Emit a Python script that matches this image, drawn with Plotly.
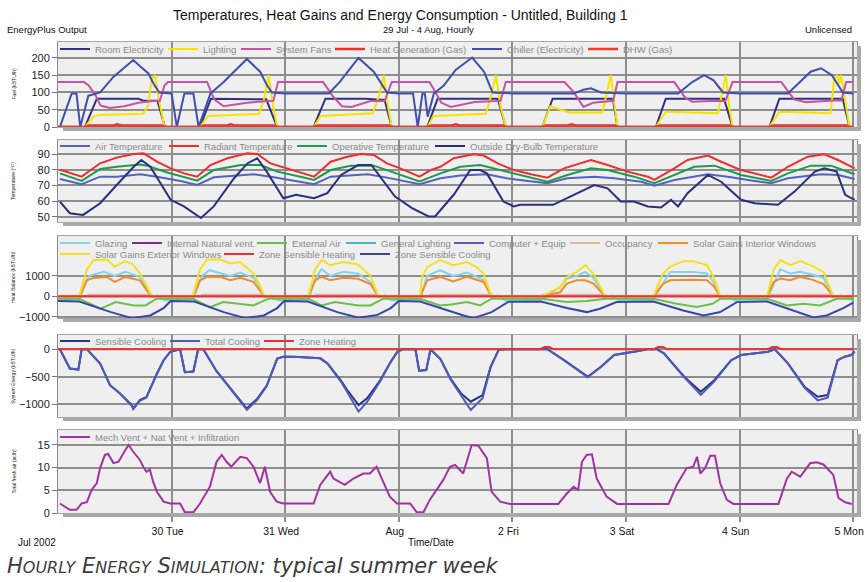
import plotly.graph_objects as go

# ---------------- DATA (hours from 29 Jul 00:00) ----------------
day_ticks = [24, 48, 72, 96, 120, 144, 168]
day_labels = ["30 Tue", "31 Wed", "Aug", "2 Fri", "3 Sat", "4 Sun", "5 Mon"]

# Panel 1 - Fuel
room_h = [0, 5.7, 8.2, 17.0, 18.0, 21.0, 22.6, 30.0, 32.3, 44.0, 46.3, 54.0, 56.5, 65.0, 69.0, 70.5,
          78.0, 80.2, 92.9, 94.6, 102.3, 104.5, 117.2, 118.2, 126.3, 128.4, 140.7, 142.5,
          150.3, 152.4, 165.8, 167.2, 168.0]
room_v = [0, 0, 82, 82, 76, 76, 0, 0, 82, 80, 0, 0, 82, 82, 78, 0,
          0, 82, 82, 0, 0, 82, 82, 0, 0, 82, 82, 0,
          0, 82, 82, 0, 0]
lt_h = [0, 5.7, 7.5, 8.5, 18.0, 19.0, 19.8, 20.5, 21.3, 22.5,
        30.0, 31.7, 42.5, 43.5, 44.5, 45.3, 46.3,
        54.0, 55.5, 66.5, 67.8, 68.8, 69.6, 70.5,
        78.1, 79.3, 90.4, 91.5, 92.5, 93.5, 94.6,
        102.3, 104.0, 108.0, 115.0, 116.0, 116.8, 117.5, 118.2,
        126.3, 128.4, 139.4, 140.3, 141.1, 141.8, 142.5,
        150.3, 152.4, 163.2, 164.0, 164.6, 165.0, 165.4, 166.0, 167.2, 168.0]
lt_v = [0, 0, 30, 35, 38, 60, 140, 150, 80, 0,
        0, 32, 38, 80, 150, 70, 0,
        0, 32, 40, 90, 150, 70, 0,
        0, 32, 38, 90, 150, 60, 0,
        0, 60, 42, 42, 100, 150, 70, 0,
        0, 44, 40, 100, 150, 60, 0,
        0, 44, 40, 140, 150, 125, 150, 100, 0, 0]
fan_h = [0, 5.5, 6.5, 8.0, 9.0, 11.0, 14.0, 17.0, 20.0, 21.5, 22.5, 23.2,
         31.5, 33.0, 35.0, 40.0, 44.0, 45.5, 46.5,
         56.0, 58.0, 60.0, 62.0, 66.0, 69.0, 70.5,
         78.5, 81.0, 83.0, 88.0, 92.5, 93.5, 94.6,
         107.0, 109.0, 111.0, 113.0, 116.5, 117.3, 118.2,
         130.2, 132.5, 134.0, 138.0, 141.0, 142.5,
         152.8, 155.5, 158.0, 164.0, 165.5, 166.5, 168.0]
fan_v = [130, 130, 120, 90, 62, 55, 60, 70, 75, 75, 120, 130,
         130, 80, 60, 70, 75, 76, 130,
         130, 90, 60, 58, 75, 75, 130,
         130, 70, 58, 72, 75, 76, 130,
         130, 100, 58, 70, 75, 76, 130,
         130, 85, 73, 75, 75, 130,
         130, 80, 72, 77, 77, 130, 130]
gas_h = [0, 5.7, 6.5, 11.5, 12.5, 13.5, 22.0, 22.6,
         30.0, 30.8, 35.5, 36.5, 37.5, 45.8, 46.3,
         54.0, 54.8, 70.0, 70.5,
         78.1, 78.9, 83.0, 84.0, 85.0, 94.1, 94.6,
         102.3, 103.1, 107.5, 108.5, 109.5, 117.7, 118.2,
         126.3, 127.1, 142.0, 142.5,
         150.3, 151.1, 166.7, 167.2, 168]
gas_v = [0, 0, 4, 4, 8, 4, 4, 0,
         0, 4, 4, 8, 4, 4, 0,
         0, 4, 4, 0,
         0, 4, 4, 8, 4, 4, 0,
         0, 4, 4, 8, 4, 4, 0,
         0, 4, 4, 0,
         0, 4, 4, 0, 0]
ch_h = [0.4, 2.9, 3.9, 4.7, 6.4, 8.9, 11.7, 13.8, 15.9, 17.4, 19.1, 20.2, 21.4,
        24.0, 25.1, 26.7, 28.6, 29.7, 32.2, 35.0, 37.5, 39.9, 42.7, 44.1, 45.2,
        48.0, 57.2, 59.5, 61.5, 63.5, 66.7, 68.8, 69.5,
        72.0, 75.0, 76.0, 77.0, 77.5, 78.1, 79.4, 81.5, 84.0, 87.5, 90.0, 91.8,
        96.0, 109.0, 111.0, 112.6, 114.7,
        120.0, 131.0, 134.0, 136.5, 138.5, 140.5,
        144.0, 154.2, 157.0, 159.0, 161.2, 163.5, 165.8, 168.0]
ch_v = [0, 97, 97, 0, 90, 100, 145, 170, 194, 175, 155, 125, 100,
        97, 0, 97, 97, 0, 97, 130, 165, 197, 160, 122, 100,
        97, 97, 130, 165, 200, 160, 112, 100,
        97, 97, 0, 97, 97, 30, 97, 120, 165, 201, 160, 100,
        97, 97, 108, 112, 100,
        97, 97, 130, 150, 135, 100,
        97, 97, 135, 160, 170, 150, 100, 97]
dhw_h = [0, 5.7, 6.5, 22.0, 22.6, 30.0, 30.8, 45.8, 46.3, 54.0, 54.8, 70.0, 70.5, 78.1, 78.9,
         94.1, 94.6, 102.3, 103.1, 117.7, 118.2, 126.3, 127.1, 142.0, 142.5, 150.3, 151.1,
         166.7, 167.2, 168]
dhw_v = [0, 0, 2, 2, 0, 0, 2, 2, 0, 0, 2, 2, 0, 0, 2,
         2, 0, 0, 2, 2, 0, 0, 2, 2, 0, 0, 2,
         2, 0, 0]

# Panel 2 - Temperatures (F)
air_h = [0.4, 5, 8.9, 12.4, 17.4, 20.9, 25.9, 29.4, 32.9, 41.4, 45.6, 51.2, 54.1, 57.6, 65.4, 69.5,
         76.4, 80.8, 85, 90.6, 94.8, 100.6, 103.4, 107.6, 113.3, 117.5, 123.2, 126, 130.2, 137.3,
         141.5, 147.2, 150.7, 154.2, 161.2, 164.8, 168.3]
air_v = [74.1, 70.8, 75.6, 75.6, 77.1, 75.6, 72.9, 70.3, 75.2, 77.1, 75.2, 72.4, 70.8, 75.6, 77.1, 75,
         70.8, 74.6, 76.3, 77.1, 74.6, 72.4, 71.4, 74.6, 75.6, 74.6, 72.4, 69.8, 73.5, 77.1,
         75.6, 72.9, 71.4, 74.6, 77.1, 76.7, 74.1]
rad_h = [0.4, 5.0, 8.9, 12.4, 16, 18.1, 20.9, 23.8, 26.6, 29.4, 32.2, 35.8, 40, 42.1, 44.9, 48.5,
         53.4, 54.1, 57.6, 61.1, 64, 66.7, 69.5, 72.3, 76.4, 78.7, 80.8, 83.6, 87.8, 89.9, 92.9,
         96.3, 99.9, 103.4, 106.9, 112.6, 116.1, 120.3, 124.6, 126, 130.2, 133, 137.3, 140.1,
         144.3, 150.7, 154.2, 158.4, 161.9, 164.8, 168.3]
rad_v = [80, 75.6, 84.1, 87.7, 90, 90.4, 85.1, 80.9, 77.7, 75.6, 83, 87.3, 90.4, 90, 84, 80.9,
         76.7, 75.6, 85.1, 88.3, 90, 89.4, 84, 80.9, 75.6, 79.8, 81.9, 87.3, 89.8, 89, 84,
         79.8, 77.1, 75, 80.9, 86.2, 83, 78.8, 75.6, 73.5, 80.9, 86.2, 89, 85.1,
         79.8, 75, 81.9, 88.3, 89.8, 86.2, 80.9]
op_h = [0.4, 5, 8.9, 12.4, 17.4, 18.8, 23.1, 27.3, 29.4, 32.9, 38.6, 42.8, 46.3, 51.2, 54.1, 57.6,
        61.8, 66.7, 70.9, 76.4, 80.8, 85, 89.2, 93.4, 97.6, 103.4, 107.6, 112.6, 116.1, 121.7,
        126, 130.2, 134.4, 138.7, 144.3, 150.7, 154.2, 159.1, 163.3, 168.3]
op_v = [77.7, 72.9, 80.5, 81.9, 83.4, 82.6, 78.3, 75, 73.1, 79.8, 83, 83, 78.8, 75.6, 73.5, 79.8,
        82.6, 82.6, 78.3, 72.6, 77.7, 81.9, 83, 79.8, 76.7, 72.4, 76.7, 80.9, 79.8, 75.6,
        71.4, 76.7, 81.9, 82.6, 76.7, 72.9, 77.7, 82.6, 82.6, 77.1]
odb_h = [0.4, 2.5, 5.3, 8.9, 12.4, 16, 17.6, 19.5, 23.8, 26.6, 30.2, 32.9, 37.2, 40, 42.1, 44.1,
         47.6, 50.3, 54.1, 56.9, 59.8, 63.4, 66.2, 71.2, 74.8, 78.3, 79.7, 83.6, 87.1, 89.2, 90.6,
         94.1, 96.3, 97.6, 104.6, 107.6, 110.4, 113.3, 116.1, 118.9, 121.7, 124.6, 127.4, 129.5,
         131, 133, 137.3, 140.1, 144.3, 147.2, 152.1, 155.6, 159.9, 161.9, 164.5, 166.3, 168.3]
odb_v = [59.8, 52.4, 51.3, 58.7, 70.3, 81.9, 86.2, 81.9, 60.9, 56.7, 49.3, 56.7, 74.6, 84, 87.3, 78.8,
         61.9, 64.1, 61.9, 65.1, 76.7, 83, 83, 63, 55.6, 50.3, 50.5, 64.1, 79.8, 79.8, 77.7,
         59.8, 56.7, 57.7, 57.7, 61.9, 66.1, 70.3, 68.2, 59.8, 59.8, 56.7, 56, 60.9,
         56.7, 65.1, 76.7, 72.4, 60.9, 58.7, 57.7, 66.1, 78.8, 80.9, 78.8, 64.1, 60.9]

# Panel 3 - Heat balance (kBTU/h)
gl_h = [0, 4.5, 6.5, 9.7, 12.0, 14.2, 17.3, 18.7, 19.8, 21.0, 22.5,
        28.5, 30.5, 32.0, 36.4, 38.5, 41.3, 42.7, 43.6, 45.0, 46.5,
        52.9, 54.5, 55.7, 57.5, 60.3, 63.4, 66.0, 67.7, 69.0, 70.5,
        76.5, 78.0, 80.7, 83.5, 86.4, 89.9, 91.6, 93.0, 94.5,
        102.2, 106.1, 107.5, 109.6, 111.4, 113.1, 115.6, 117.0, 118.5,
        125.8, 129.3, 132.1, 134.2, 137.1, 138.5, 139.9, 141.5, 143.0,
        149.8, 152.6, 154.7, 156.8, 159.5, 161.7, 163.8, 165.5, 168.0]
gl_v = [-200, -150, 1000, 1187, 992, 1187, 943, 400, -50, 50, -200,
        -150, 1000, 1268, 992, 1150, 900, 450, -50, 50, -200,
        -150, 900, 1317, 992, 1187, 1100, 700, -50, 50, -200,
        -150, 1000, 1268, 992, 1150, 800, -50, 50, -200,
        -150, 455, 862, 992, 1187, 900, -50, 50, -200,
        -150, 1187, 1187, 1187, 1106, 700, -50, 50, -200,
        -150, 1317, 1106, 1187, 1050, 900, -50, 50, -200]
inv_h = [0, 168]
inv_v = [0, 0]
ea_h = [0, 4.5, 9.0, 12.2, 16.0, 18.5, 20.8,
        28.5, 32.1, 34.9, 41.3, 44.5,
        52.9, 55.7, 58.5, 63.4, 66.0, 68.7,
        76.5, 80.7, 83.0, 86.4, 89.2, 91.6,
        102.2, 107.5, 111.7, 115.6,
        125.8, 130.7, 134.9, 138.3, 139.9,
        149.8, 154.0, 157.5, 161.0, 164.5, 168.0]
ea_v = [-114, -114, -600, -276, -439, -439, -114,
        -114, -520, -276, -439, -114,
        -114, -439, -276, -439, -439, -114,
        -114, -439, -400, -276, -439, -114,
        -114, -276, -228, -114,
        -114, -358, -520, -358, -114,
        -114, -439, -358, -439, -114, -114]
occ_h = [0, 6.0, 6.5, 19.5, 20.0, 30.0, 30.5, 43.5, 44.0, 54.0, 54.5, 67.5, 68.0, 78.0, 78.5,
         91.5, 92.0, 102.0, 102.5, 115.5, 116.0, 126.0, 126.5, 139.5, 140.0, 150.0, 150.5,
         163.5, 164.0, 168.0]
occ_v = [0, 0, 80, 80, 0, 0, 80, 80, 0, 0, 80, 80, 0, 0, 80,
         80, 0, 0, 80, 80, 0, 0, 80, 80, 0, 0, 80,
         80, 0, 0]
genl_v = [0, 0, 50, 50, 0, 0, 50, 50, 0, 0, 50, 50, 0, 0, 50,
          50, 0, 0, 50, 50, 0, 0, 50, 50, 0, 0, 50,
          50, 0, 0]
comp_v = [20, 20, 40, 40, 20, 20, 40, 40, 20, 20, 40, 40, 20, 20, 40,
          40, 20, 20, 40, 40, 20, 20, 40, 40, 20, 20, 40,
          40, 20, 20]
si_h = [0, 4.5, 6.1, 7.5, 10.3, 12.0, 14.2, 17.3, 18.7, 19.8,
        28.5, 30.0, 31.5, 34.3, 36.4, 38.5, 41.3, 42.5, 43.6,
        52.9, 54.3, 55.7, 57.5, 60.3, 63.4, 66.0, 67.7,
        76.5, 78.0, 80.7, 83.5, 86.4, 89.9, 91.6,
        102.2, 106.1, 107.5, 109.6, 111.4, 113.1, 115.6,
        125.8, 127.8, 129.3, 132.1, 134.2, 137.1, 138.5, 139.9,
        149.8, 151.2, 152.6, 154.7, 156.8, 159.5, 161.7, 163.8, 168.0]
si_v = [0, 0, 780, 894, 943, 700, 943, 780, 300, 0,
        0, 780, 943, 943, 780, 900, 700, 350, 0,
        0, 780, 943, 780, 900, 850, 600, 0,
        0, 780, 943, 720, 943, 700, 0,
        0, 200, 618, 780, 780, 618, 0,
        0, 600, 780, 800, 800, 780, 500, 0,
        0, 700, 862, 780, 943, 800, 600, 0, 0]
se_h = [0, 4.5, 6.1, 7.5, 10.3, 12.0, 14.2, 15.8, 17.3, 18.7, 19.8,
        28.5, 30.0, 31.5, 34.3, 36.4, 38.5, 41.3, 42.5, 43.6,
        52.9, 54.3, 55.7, 57.5, 60.3, 63.4, 66.0, 67.7,
        76.5, 76.9, 78.0, 80.7, 83.5, 86.4, 88.5, 89.9, 91.6,
        102.2, 106.1, 107.5, 109.6, 111.4, 113.1, 115.6,
        125.8, 127.8, 129.3, 132.1, 134.2, 137.1, 138.5, 139.9,
        149.8, 151.2, 152.6, 154.7, 156.8, 159.5, 161.7, 163.8, 168.0]
se_v = [0, 0, 1300, 1756, 1789, 1431, 1707, 1550, 1106, 537, 0,
        0, 1300, 1789, 1789, 1590, 1660, 1106, 600, 0,
        0, 1300, 1756, 1512, 1660, 1550, 1000, 0,
        0, 940, 1430, 1756, 1512, 1660, 1400, 1106, 0,
        0, 455, 943, 1187, 1512, 1106, 0,
        0, 1100, 1431, 1707, 1707, 1512, 943, 0,
        0, 1300, 1756, 1512, 1707, 1450, 1187, 0, 0]
zsh_h = [0, 168]
zsh_v = [0, 0]
zc_h = [0, 4.5, 11.2, 15.6, 19.5, 22.3, 23.8,
        28.8, 35.0, 39.6, 43.5, 46.3, 47.8,
        52.8, 59.0, 63.5, 67.5, 70.3, 72.0,
        76.5, 85.7, 87.8, 91.6, 95.2,
        102.0, 107.5, 111.7, 114.5, 118.0,
        125.8, 132.1, 136.4, 139.9, 143.4,
        149.8, 156.1, 159.6, 162.4, 165.9, 168.0]
zc_v = [-228, -250, -764, -1057, -927, -569, -228,
        -250, -764, -1057, -927, -569, -228,
        -250, -764, -1040, -900, -569, -228,
        -250, -927, -1057, -764, -260,
        -250, -569, -764, -600, -280,
        -250, -683, -927, -764, -280,
        -250, -764, -1025, -927, -569, -300]

# Panel 4 - System energy (kBTU/h)
sc_h = [0.4, 2.5, 4.3, 5.0, 6.1, 8.9, 11.0, 13.1, 15.6, 15.9, 17.3, 18.7, 20.9, 22.3, 23.7,
        25.8, 26.8, 28.6, 29.6, 30.7, 33.5, 37.0, 39.9, 42.1, 44.1, 46.3, 47.6,
        49.8, 55.4, 56.9, 59.7, 61.1, 62.5, 63.5, 65.3, 68.1, 70.3, 71.7,
        73.0, 75.5, 76.3, 77.8, 78.7, 80.8, 82.9, 85.1, 87.2, 89.7, 91.4, 93.1, 94.8,
        103.4, 106.9, 111.9, 114.7, 117.5, 121.7, 124.6,
        126.5, 128.0, 132.3, 135.8, 138.7, 142.2, 144.3, 147.1, 150.0, 151.4,
        154.2, 157.7, 160.5, 162.6, 164.7, 166.2, 167.6, 168.3]
sc_v = [0, -351, -370, 0, 0, -260, -655, -806, -1018, -1079, -927, -867, -442, -200, -48,
        0, -418, -405, 0, 0, -400, -773, -1079, -900, -660, -170, -136,
        -136, -166, -257, -560, -742, -900, -1015, -894, -560, -227, -45,
        0, 0, -390, -380, 0, -180, -530, -800, -955, -833, -318, -12, 0,
        0, -200, -500, -318, -106, -45, 0,
        0, -75, -500, -772, -560, -200, -106, -80, -45, 0,
        -257, -682, -864, -833, -200, -136, -106, -45]
tc_v = [0, -351, -370, 0, 0, -260, -655, -806, -1030, -1090, -940, -880, -450, -205, -48,
        0, -418, -405, 0, 0, -400, -790, -1100, -920, -670, -175, -136,
        -136, -166, -257, -580, -780, -980, -1136, -960, -580, -230, -45,
        0, 0, -390, -380, 0, -180, -545, -840, -1106, -890, -330, -12, 0,
        0, -200, -510, -325, -106, -45, 0,
        0, -75, -510, -830, -580, -205, -106, -80, -45, 0,
        -257, -700, -930, -880, -205, -136, -106, -45]
zh_h = [0, 101.9, 102.8, 103.8, 104.7, 125.8, 126.8, 127.8, 128.7, 150.0, 150.9, 151.9, 152.8, 168.0]
zh_v = [0, 0, 40, 40, 0, 0, 40, 40, 0, 0, 40, 40, 0, 0]

# Panel 5 - Fresh air (ac/h)
vent_h = [0.4, 2.5, 3.9, 5.0, 6.1, 7.1, 8.2, 8.9, 9.9, 10.6, 11.7, 12.8, 14.0, 14.9, 15.9, 17.3,
          18.0, 18.7, 19.4, 20.1, 20.9, 22.3, 23.7,
          25.8, 26.8, 28.6, 30.0, 32.1, 33.5, 34.6, 35.6, 36.6, 38.5, 39.9, 41.3, 42.0, 42.7,
          43.7, 44.8, 46.2, 47.6,
          54.0, 55.4, 57.5, 58.2, 60.6, 62.4, 64.5, 65.9, 67.3, 68.7, 70.1, 71.6,
          74.4, 75.8, 77.2, 78.6, 81.4, 82.8, 83.9, 85.6, 87.4, 88.8, 90.6, 91.6, 93.4, 95.5,
          105.7, 107.5, 108.9, 109.9, 110.7, 111.7, 112.8, 113.8, 115.9, 118.1,
          129.0, 130.7, 132.8, 134.2, 135.0, 135.7, 136.7, 137.8, 138.8, 139.9, 141.3, 142.7,
          152.2, 154.0, 155.0, 156.8, 158.9, 160.3, 161.7, 163.8, 164.9, 166.3, 167.7]
vent_v = [2.1, 0.7, 0.7, 2.1, 2.4, 5.1, 6.6, 9.9, 12.8, 13.0, 11.0, 11.3, 13.5, 15.0, 13.5, 11.7,
          10.2, 9.1, 9.6, 6.9, 4.7, 2.5, 2.1,
          2.1, 0.15, 0.15, 2.1, 5.8, 11.3, 12.8, 11.3, 10.2, 12.4, 12.1, 10.2, 8.4, 6.6,
          10.2, 4.7, 2.5, 2.1,
          2.1, 6.2, 9.1, 7.6, 6.2, 7.6, 8.7, 8.7, 10.2, 6.9, 3.6, 2.1,
          2.1, 0.15, 0.15, 3.0, 7.3, 10.2, 10.6, 8.7, 15.0, 14.85, 12.1, 4.7, 2.5, 2.0,
          2.0, 4.3, 5.8, 5.1, 11.3, 12.8, 12.95, 7.6, 3.6, 2.0,
          2.0, 6.2, 9.85, 10.2, 12.4, 8.7, 9.85, 12.6, 12.6, 6.55, 2.9, 2.0,
          2.0, 7.6, 9.1, 8.0, 10.96, 11.2, 10.7, 8.4, 3.3, 2.35, 2.0]

# ---------------- LAYOUT HELPERS ----------------
W, H = 867, 582
L, R, T, B = 58, 10, 42, 69
PW = W - L - R
PH = H - T - B
def fx(px): return (px - L) / PW
def fy(py): return (H - B - py) / PH

FONT = "Liberation Sans, Arial, sans-serif"
panels = [(42, 127), (140, 222), (236, 318), (335, 417), (430, 513)]
yranges = [[0, 246], [46.8, 98.9], [-1050, 2927], [-1233, 258], [0, 18.3]]
yticks = [[0, 50, 100, 150, 200], [50, 60, 70, 80, 90], [-1000, 0, 1000], [-1000, -500, 0], [0, 5, 10, 15]]
ytitles = ["Fuel (kBTU/h)", "Temperature (°F)", "Heat Balance (kBTU/h)", "System Energy (kBTU/h)", "Total fresh air (ac/h)"]

fig = go.Figure()
legends = {}
LEG_OFF = 39  # legend box left -> text start

def add(x, y, name, color, panel, text_x, row_y, width=2):
    sfx = "" if panel == 1 else str(panel)
    n = len(legends) + 1
    key = "legend" if n == 1 else "legend%d" % n
    legends[key] = dict(orientation="h", xref="container", yref="container",
                        x=(text_x - LEG_OFF) / W, y=1 - row_y / H,
                        xanchor="left", yanchor="middle",
                        font=dict(size=9.5, color="#8a8a8a", family=FONT),
                        bgcolor="rgba(0,0,0,0)", itemwidth=30, borderwidth=0)
    fig.add_trace(go.Scatter(x=x, y=y, name=name, mode="lines",
                             line=dict(color=color, width=width),
                             xaxis="x" + sfx, yaxis="y" + sfx, legend=key,
                             hoverinfo="skip"))

# panel 1
add(room_h, room_v, "Room Electricity", "#2d3184", 1, 94, 49)
add(lt_h, lt_v, "Lighting", "#f4e400", 1, 202, 49)
add(fan_h, fan_v, "System Fans", "#c653a6", 1, 275, 49)
add(gas_h, gas_v, "Heat Generation (Gas)", "#e8322c", 1, 369, 49, 2.5)
add(ch_h, ch_v, "Chiller (Electricity)", "#3f4fae", 1, 506, 49)
add(dhw_h, dhw_v, "DHW (Gas)", "#ee3a30", 1, 622, 49, 2.5)
# panel 2
add(air_h, air_v, "Air Temperature", "#5363c0", 2, 94, 146)
add(rad_h, rad_v, "Radiant Temperature", "#ee2e2e", 2, 203, 146)
add(op_h, op_v, "Operative Temperature", "#1f9a4c", 2, 331, 146)
add(odb_h, odb_v, "Outside Dry-Bulb Temperature", "#2a2f80", 2, 469, 146)
# panel 3
add(gl_h, gl_v, "Glazing", "#86d3e6", 3, 94, 243)
add(inv_h, inv_v, "Internal Natural vent.", "#7b2d8e", 3, 166, 243)
add(ea_h, ea_v, "External Air", "#6cc04a", 3, 291, 243)
add(occ_h, genl_v, "General Lighting", "#45b6c4", 3, 380, 243)
add(occ_h, comp_v, "Computer + Equip", "#5a5cb8", 3, 488, 243)
add(occ_h, occ_v, "Occupancy", "#d9bb9c", 3, 604, 243)
add(si_h, si_v, "Solar Gains Interior Windows", "#f28c2e", 3, 692, 243)
add(se_h, se_v, "Solar Gains Exterior Windows", "#f2e21e", 3, 94, 254)
add(zsh_h, zsh_v, "Zone Sensible Heating", "#f0302e", 3, 258, 254)
add(zc_h, zc_v, "Zone Sensible Cooling", "#3a46a6", 3, 394, 254)
# panel 4
add(sc_h, sc_v, "Sensible Cooling", "#2d3184", 4, 94, 341)
add(sc_h, tc_v, "Total Cooling", "#4c5cb8", 4, 204, 341)
add(zh_h, zh_v, "Zone Heating", "#ee3030", 4, 298, 341)
# panel 5
add(vent_h, vent_v, "Mech Vent + Nat Vent + Infiltration", "#a2339e", 5, 94, 437)

GRID = "#8e8e8e"
layout = dict(width=W, height=H, margin=dict(l=L, r=R, t=T, b=B, autoexpand=False),
              paper_bgcolor="white", plot_bgcolor="#efefef",
              font=dict(family=FONT, color="#222"), showlegend=True)
layout.update(legends)

for i, ((top, bot), yr, yt) in enumerate(zip(panels, yranges, yticks), start=1):
    sfx = "" if i == 1 else str(i)
    last = (i == 5)
    layout["xaxis" + sfx] = dict(domain=[0, 1], range=[0, 168.8], anchor="y" + sfx,
                                 tickvals=day_ticks, ticktext=day_labels,
                                 showticklabels=last, showgrid=True, gridcolor=GRID, gridwidth=1.5,
                                 zeroline=False, showline=True, mirror=True, linecolor="#a6a6a6", linewidth=1,
                                 ticks="outside" if last else "", ticklen=8, tickcolor=GRID, tickwidth=1.5,
                                 tickfont=dict(size=10.5, color="#111", family=FONT), automargin=False,
                                 ticklabeloverflow="allow", ticklabelshift=-4, fixedrange=True)
    layout["yaxis" + sfx] = dict(domain=[fy(bot), fy(top)], range=yr, anchor="x" + sfx,
                                 tickvals=yt, showgrid=True, gridcolor=GRID, gridwidth=1.5,
                                 zeroline=False, showline=True, mirror=True, linecolor="#8a8a8a", linewidth=1,
                                 ticks="outside", ticklen=5, tickcolor="#777",
                                 tickfont=dict(size=11, color="#222", family=FONT), automargin=False,
                                 fixedrange=True)

shapes = []
for top, bot in panels:
    shapes.append(dict(type="rect", xref="paper", yref="paper", x0=fx(857), x1=fx(861),
                       y0=fy(bot + 4), y1=fy(top + 4), fillcolor="#a9a9a9", line=dict(width=0)))
    shapes.append(dict(type="rect", xref="paper", yref="paper", x0=fx(63), x1=fx(861),
                       y0=fy(bot + 4), y1=fy(bot + 0.5), fillcolor="#a9a9a9", line=dict(width=0)))
layout["shapes"] = shapes

def note(text, xpx, ypx, anchor, size, color="#111", family=FONT, angle=0):
    return dict(text=text, x=fx(xpx), y=fy(ypx), xref="paper", yref="paper", showarrow=False,
                xanchor=anchor, yanchor="middle", textangle=angle,
                font=dict(size=size, color=color, family=family), borderpad=0)

ann = [
    note("Temperatures, Heat Gains and Energy Consumption - Untitled, Building 1", 400, 15, "center", 14),
    note("29 Jul - 4 Aug, Hourly", 428, 29, "center", 9.5),
    note("EnergyPlus Output", 6, 29, "left", 9.5),
    note("Unlicensed", 853, 29, "right", 9.5),
    note("Jul 2002", 17, 542, "left", 10),
    note("Time/Date", 431, 542, "center", 10),
]
for (top, bot), t in zip(panels, ytitles):
    ann.append(note(t, 13, (top + bot) / 2, "center", 5, "#222", FONT, -90))
sc = '<span style="font-size:16px">'
ann.append(note("<i>H" + sc + "OURLY</span> E" + sc + "NERGY</span> S" + sc +
                "IMULATION</span>: typical summer week</i>", 6, 566, "left", 21, "#3c3c3c",
                "DejaVu Sans, Verdana, sans-serif"))
layout["annotations"] = ann

fig.update_layout(**layout)
fig.write_html("out.html", config={"displayModeBar": False},
               post_script="document.body.style.margin='0';document.body.style.padding='0';"
                           "document.documentElement.style.margin='0';")
